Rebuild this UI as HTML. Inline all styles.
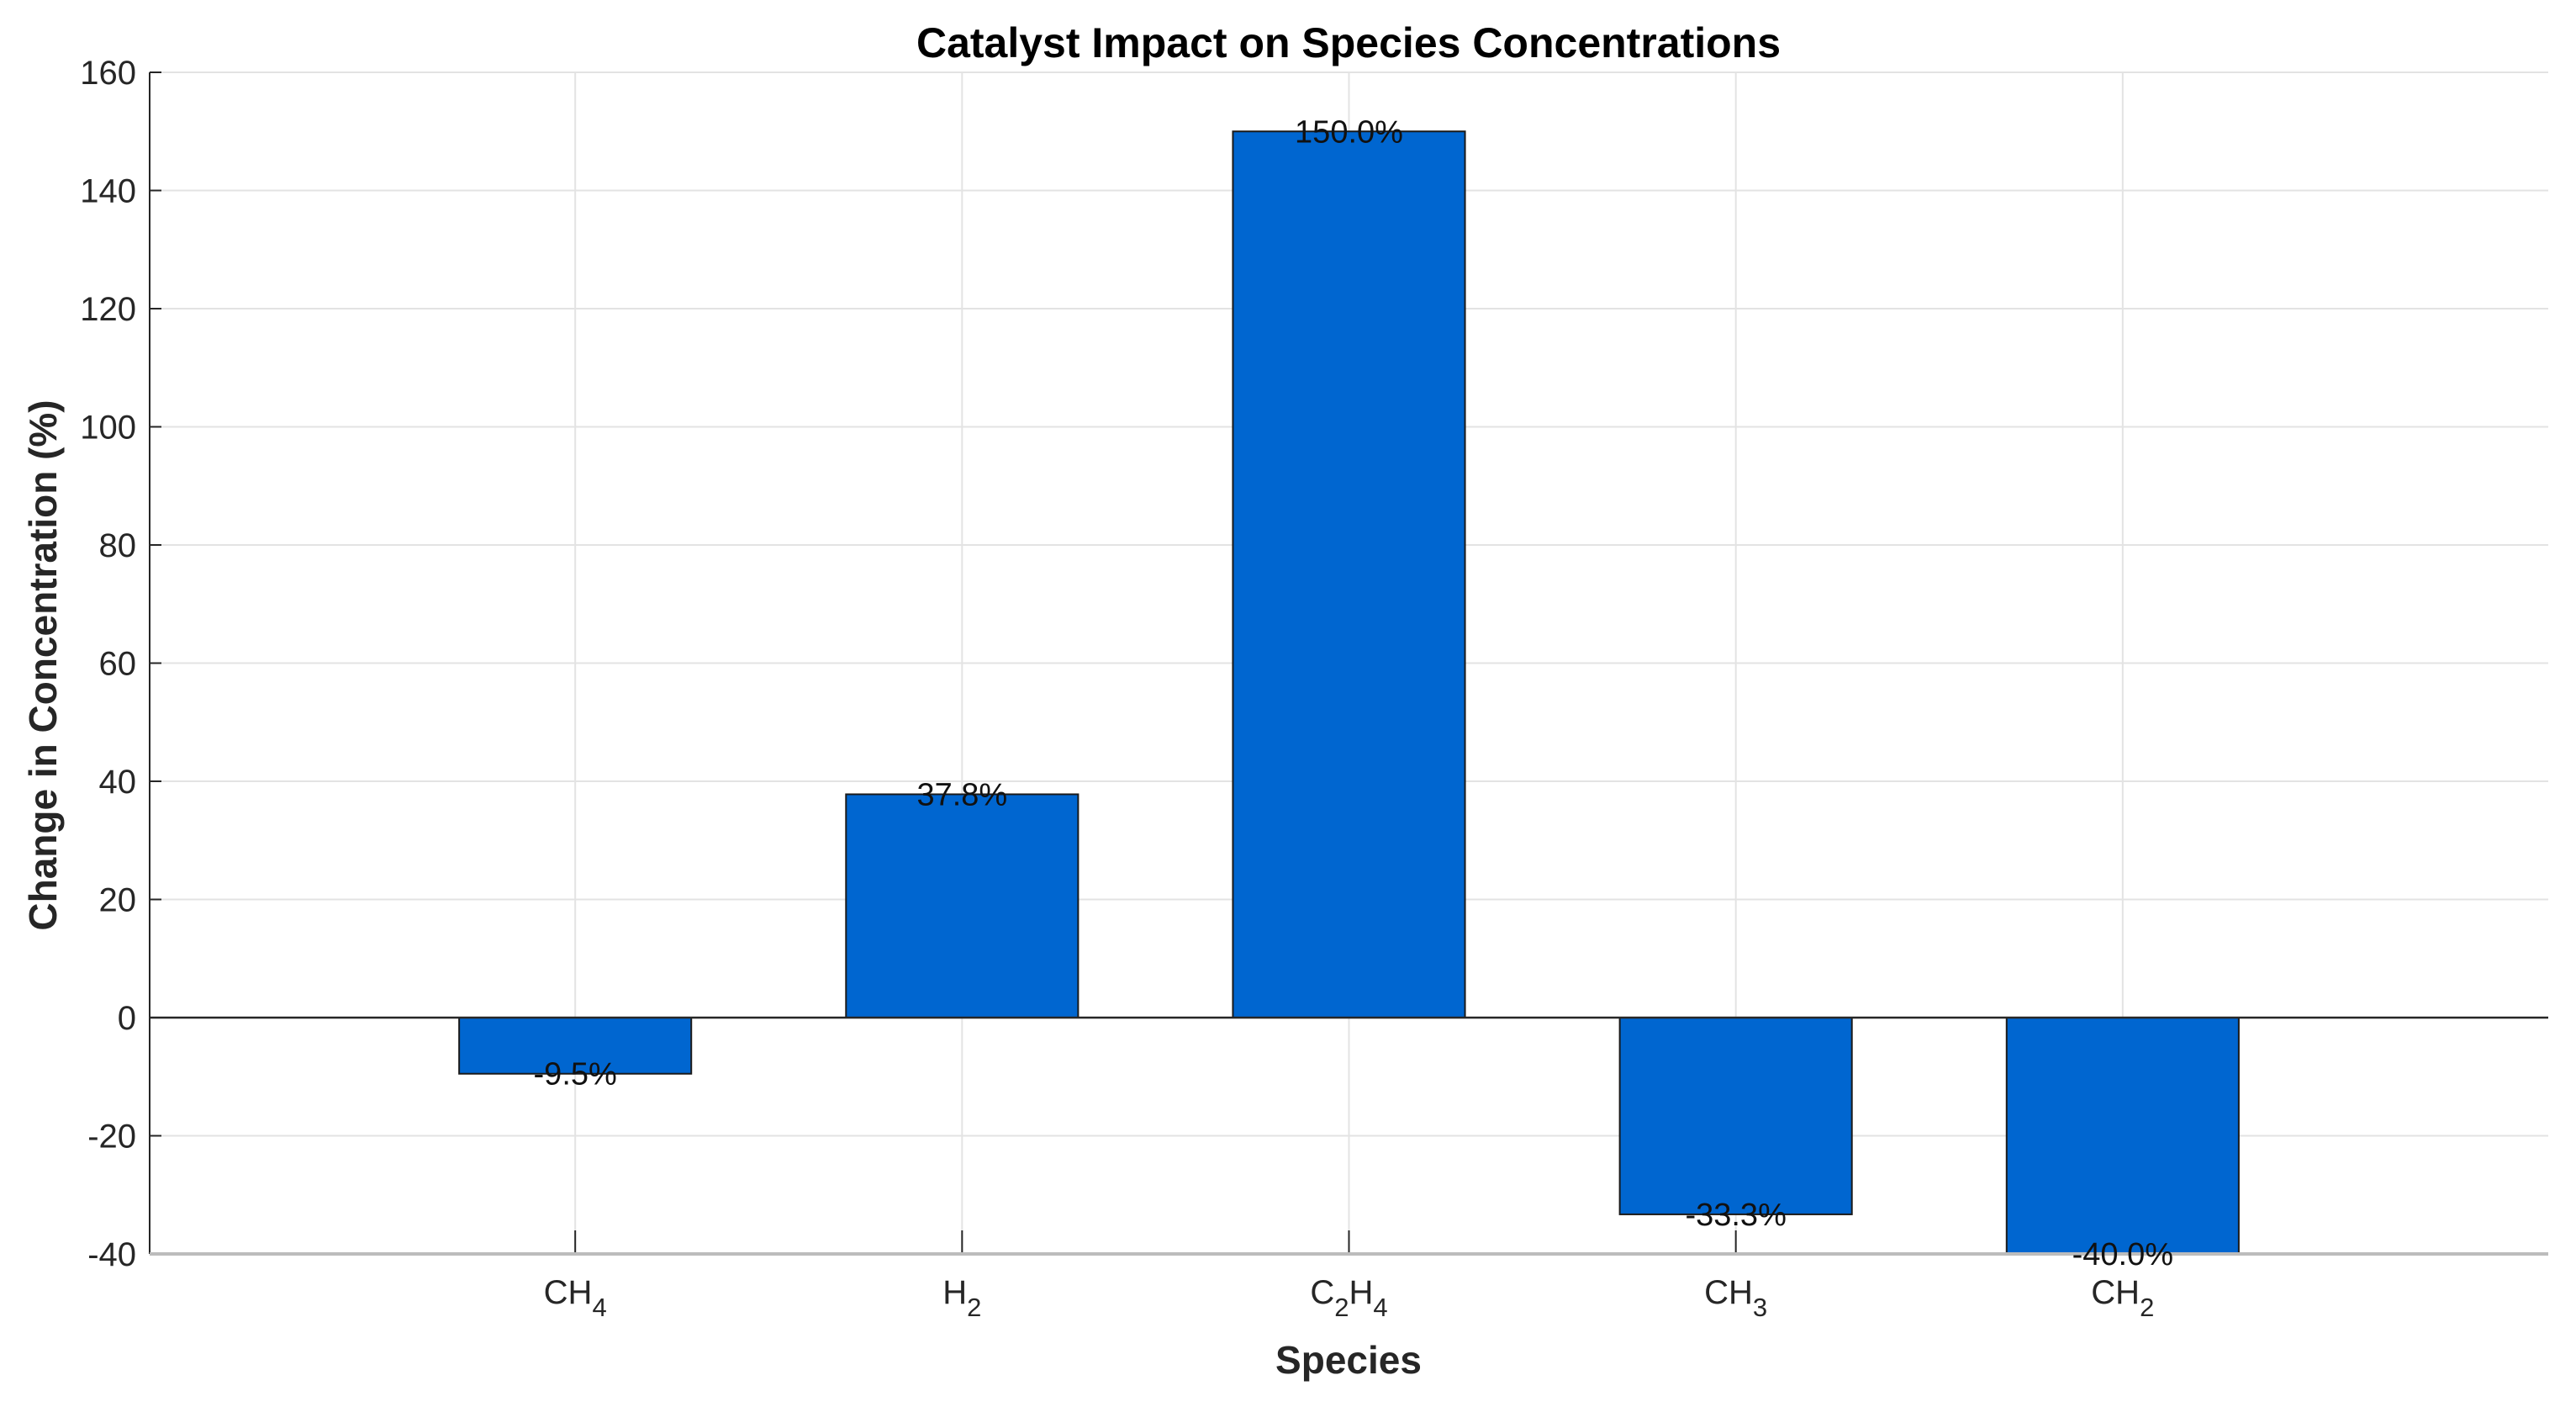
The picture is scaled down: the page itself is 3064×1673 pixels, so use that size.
<!DOCTYPE html>
<html><head><meta charset="utf-8"><style>
body{margin:0;background:#fff;}
svg{display:block;font-family:"Liberation Sans",Arial,sans-serif;}
</style></head><body>
<svg id="chart" width="3064" height="1673" viewBox="0 0 3064 1673" xmlns="http://www.w3.org/2000/svg">
<rect width="3064" height="1673" fill="#fff"/>
<text x="1604" y="68" text-anchor="middle" font-size="50" font-weight="bold" fill="#000">Catalyst Impact on Species Concentrations</text>
<text transform="translate(67,791) rotate(-90)" text-anchor="middle" font-size="46" font-weight="bold" fill="#262626">Change in Concentration (%)</text>
<text x="1604" y="1633" text-anchor="middle" font-size="46" font-weight="bold" fill="#262626">Species</text>
<g id="grid"></g><g id="bars"></g><g id="axes"></g><g id="labels"></g>
</svg>
<script>
const categories=["CH4","H2","C2H4","CH3","CH2"];
const catMain=[["CH","4"],["H","2"],["C","2","H","4"],["CH","3"],["CH","2"]];
const values=[-9.5,37.8,150.0,-33.3,-40.0];
const yTicks=[-40,-20,0,20,40,60,80,100,120,140,160];
const ns="http://www.w3.org/2000/svg";
const L=178,R=3031,T=86,B=1491,yMin=-40,yMax=160;
const xMin=-0.1,xMax=6.1;
function X(i){return L+(i+1-xMin)/(xMax-xMin)*(R-L);}
function Y(v){return T+(yMax-v)/(yMax-yMin)*(B-T);}
function mk(tag,attrs,parent){const e=document.createElementNS(ns,tag);for(const k in attrs)e.setAttribute(k,attrs[k]);parent.appendChild(e);return e;}
const grid=document.getElementById('grid'),bars=document.getElementById('bars'),axes=document.getElementById('axes'),labels=document.getElementById('labels');
yTicks.forEach(t=>{
 const g=mk('line',{x1:L,x2:R,y1:Y(t),y2:Y(t),stroke:'#e3e3e3','stroke-width':2},grid);
 
 
 const tk=mk('line',{x1:L,x2:L+14,y1:Y(t),y2:Y(t),stroke:'#262626','stroke-width':2},axes);
 
 
 const tx=mk('text',{x:L-16,y:Y(t)+14,'text-anchor':'end','font-size':40,fill:'#262626'},axes);
 tx.textContent=t;
 
 
});
categories.forEach((c,i)=>{
 const g=mk('line',{x1:X(i),x2:X(i),y1:T,y2:B,stroke:'#e3e3e3','stroke-width':2},grid);
 
 
 const tk=mk('line',{x1:X(i),x2:X(i),y1:B,y2:B-28,stroke:'#262626','stroke-width':2},grid);
 
 
});
const bw=0.6*(X(1)-X(0));
values.forEach((v,i)=>{
 const y0=Y(0),y1=Y(v);
 const r=mk('rect',{x:X(i)-bw/2,y:Math.min(y0,y1),width:bw,height:Math.abs(y1-y0),fill:'#0066d0',stroke:'#1a1a1a','stroke-width':2},bars);
 
 
 const t=mk('text',{x:X(i),y:y1+13,'text-anchor':'middle','font-size':38,fill:'#111'},labels);
 t.textContent=v.toFixed(1)+'%';
 
 
});
const base=mk('line',{x1:L,x2:R,y1:Y(0),y2:Y(0),stroke:'#262626','stroke-width':2.5},axes);


const ya=mk('line',{x1:L,x2:L,y1:T,y2:B,stroke:'#262626','stroke-width':2},axes);


const xa=mk('line',{x1:L,x2:R,y1:B,y2:B,stroke:'#bcbcbc','stroke-width':4},axes);


categories.forEach((c,i)=>{
 const t=mk('text',{x:X(i),y:1550,'text-anchor':'middle','font-size':40,fill:'#262626'},axes);
 
 
 catMain[i].forEach((p,j)=>{
  const s=document.createElementNS(ns,'tspan');
  if(j%2===1){s.setAttribute('font-size',31);s.setAttribute('dy',15);}
  else if(j>0){s.setAttribute('dy',-15);}
  s.textContent=p;t.appendChild(s);
 });
});
</script>
</body></html>
